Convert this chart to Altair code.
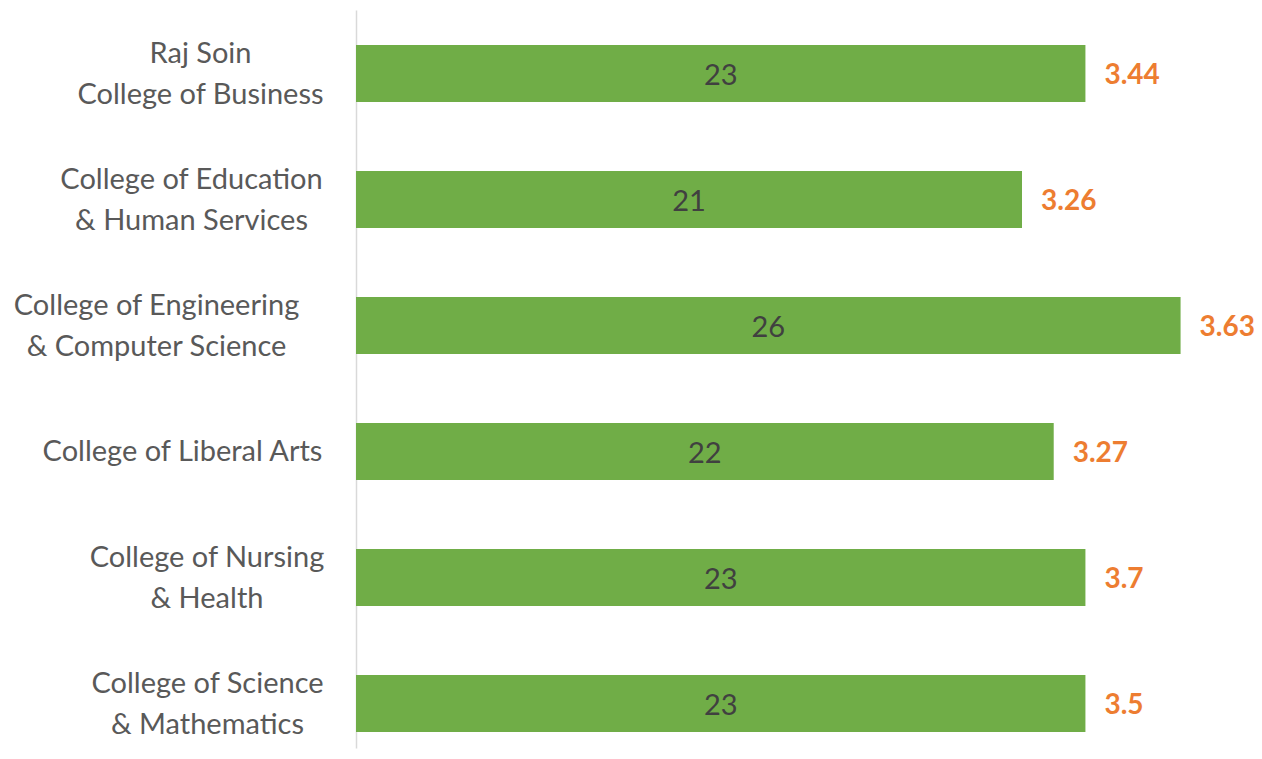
import altair as alt
import pandas as pd

# data
colleges = [
    "Raj Soin|College of Business",
    "College of Education|& Human Services",
    "College of Engineering|& Computer Science",
    "College of Liberal Arts",
    "College of Nursing|& Health",
    "College of Science|& Mathematics",
]
counts = [23, 21, 26, 22, 23, 23]
gpa_labels = ["3.44", "3.26", "3.63", "3.27", "3.7", "3.5"]

# style: distance (px) from axis line to centre of each label block
label_offsets = [156, 165, 200, 174, 149.5, 149]
LINE_H = 41

df = pd.DataFrame({"college": colleges, "count": counts, "gpa": gpa_labels})

pad_expr = (
    "[" + ",".join(str(v) for v in label_offsets) + "]"
    + "[indexof([" + ",".join("'" + c + "'" for c in colleges) + "], datum.value)]"
)
# shift multi-line labels up so the block is centred on the bar
off_expr = f"-(length(split(datum.value, '|')) - 1) * {LINE_H} / 2 + 1"

FONT = "Lato"

y_enc = alt.Y(
    "college:N",
    sort=colleges,
    scale=alt.Scale(paddingInner=0.548, paddingOuter=0.2027, align=0.685),
    axis=alt.Axis(
        title=None,
        labelExpr="split(datum.label, '|')",
        labelAlign="center",
        labelBaseline="middle",
        labelPadding={"expr": pad_expr},
        labelOffset={"expr": off_expr},
        labelFont=FONT,
        labelFontSize=29,
        labelColor="#595959",
        labelLineHeight=LINE_H,
        labelLimit=500,
        ticks=False,
        tickSize=0,
        domainColor="#D9D9D9",
        domainWidth=1.5,
    ),
)
x_scale = alt.Scale(domain=[0, 28])

base = alt.Chart(df)

bars = base.mark_bar(color="#70AD47").encode(
    x=alt.X("count:Q", scale=x_scale, axis=None),
    y=y_enc,
)

inner = base.transform_calculate(mid="datum.count / 2").mark_text(
    font=FONT, fontSize=29, color="#404040", align="center", baseline="middle", dy=3
).encode(
    x=alt.X("mid:Q", scale=x_scale, axis=None),
    y=alt.Y("college:N", sort=colleges),
    text="count:Q",
)

outer = base.mark_text(
    font=FONT, fontSize=28, fontWeight="bold", color="#ED7D31",
    align="left", baseline="middle", dx=19, dy=3,
).encode(
    x=alt.X("count:Q", scale=x_scale, axis=None),
    y=alt.Y("college:N", sort=colleges),
    text="gpa:N",
)

chart = alt.layer(bars, inner, outer).properties(
    width=888,
    height=738,
    autosize=alt.AutoSizeParams(type="none"),
    padding={"left": 348, "top": 2, "right": 10, "bottom": 2},
).configure_view(stroke=None)

chart.save("out.html", embed_options={"renderer": "svg", "actions": False})
